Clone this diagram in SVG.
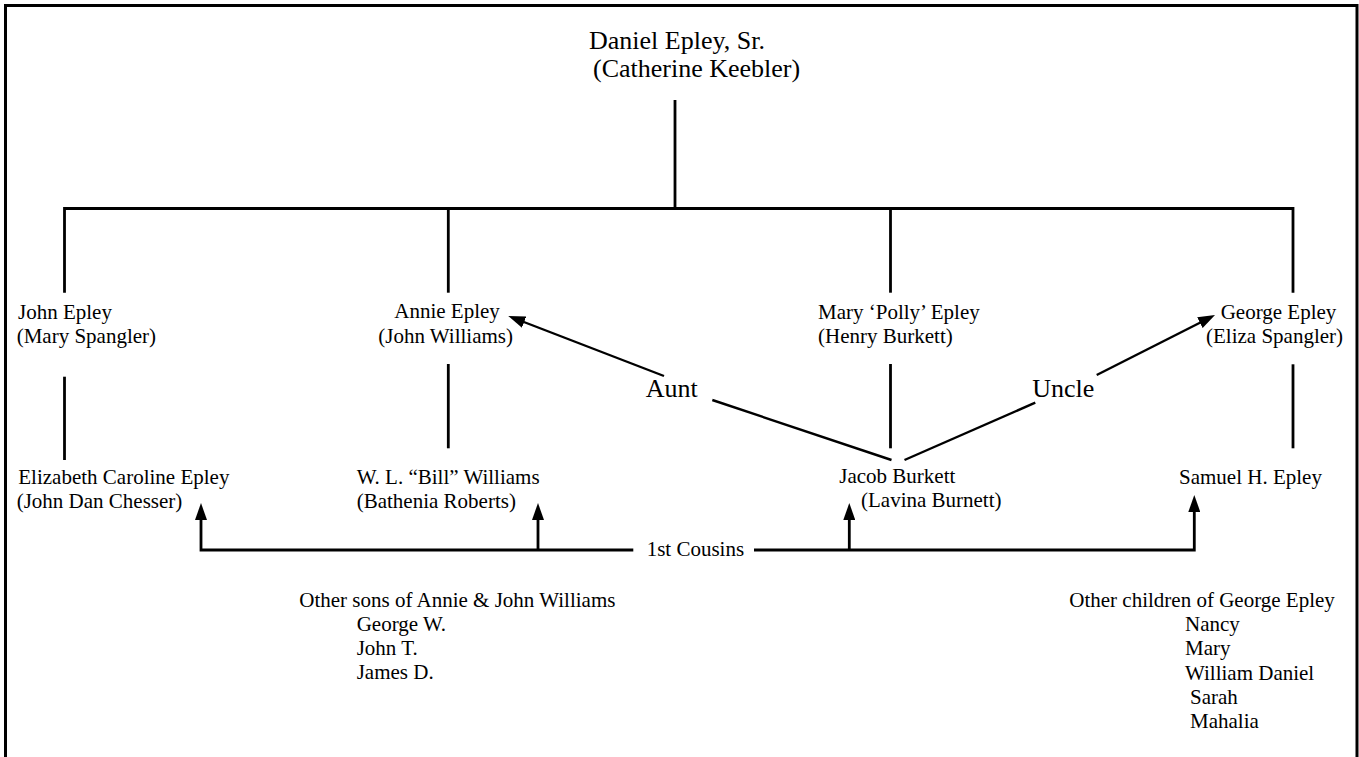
<svg xmlns="http://www.w3.org/2000/svg" width="1359" height="757" viewBox="0 0 1359 757">
<style>
text{font-family:"Liberation Serif","Times New Roman",serif;fill:#000}
.t{font-size:21px}
.b{font-size:26px}
.ln{fill:none;stroke:#000;stroke-width:2.8}
.dg{fill:none;stroke:#000;stroke-width:2.4}
</style>
<defs>
<marker id="ah" viewBox="0 0 17 12" refX="10" refY="6" markerWidth="17" markerHeight="12" markerUnits="userSpaceOnUse" orient="auto">
<path d="M0,0 L17,6 L0,12 z" fill="#000"/>
</marker>
</defs>
<rect width="1359" height="757" fill="#fff"/>
<path d="M5.5,757 V5.5 H1357 V757" fill="none" stroke="#000" stroke-width="3"/>

<g id="connectors">
<path class="ln" d="M675,100 V208.5"/>
<path class="ln" d="M64.5,292.7 V208.5 H1293 V292.7"/>
<path class="ln" d="M448.3,208.5 V292.7"/>
<path class="ln" d="M890.5,208.5 V292.7"/>
<path class="ln" d="M64.5,376.7 V460"/>
<path class="ln" d="M448.3,364 V448.3"/>
<path class="ln" d="M890.5,364 V448.3"/>
<path class="ln" d="M1293,364.3 V448.3"/>
<path class="dg" d="M891.5,460 L712.3,400"/>
<path class="dg" d="M664,376 L514.8,318.5" marker-end="url(#ah)"/>
<path class="dg" d="M904.5,460 L1035.3,402.7"/>
<path class="dg" d="M1096.7,375 L1208.8,318.2" marker-end="url(#ah)"/>
<path class="ln" d="M633.3,550 H201 V510" marker-end="url(#ah)"/>
<path class="ln" d="M538,550 V510" marker-end="url(#ah)"/>
<path class="ln" d="M754,550 H1194.3 V502" marker-end="url(#ah)"/>
<path class="ln" d="M849.3,550 V510" marker-end="url(#ah)"/>
<text class="b" x="645.7" y="396.7">Aunt</text>
<text class="b" x="1032.2" y="396.7">Uncle</text>
<text class="t" x="646.7" y="556">1st Cousins</text>
</g>

<g id="daniel">
<text class="b" x="589" y="49">Daniel Epley, Sr.</text>
<text class="b" x="593" y="77">(Catherine Keebler)</text>
</g>
<g id="john">
<text class="t" x="18" y="319">John Epley</text>
<text class="t" x="16.7" y="343">(Mary Spangler)</text>
</g>
<g id="annie">
<text class="t" x="394.3" y="318">Annie Epley</text>
<text class="t" x="378.3" y="342.7">(John Williams)</text>
</g>
<g id="mary">
<text class="t" x="818" y="319">Mary ‘Polly’ Epley</text>
<text class="t" x="818" y="343">(Henry Burkett)</text>
</g>
<g id="george">
<text class="t" x="1220.7" y="319">George Epley</text>
<text class="t" x="1206" y="343">(Eliza Spangler)</text>
</g>
<g id="elizabeth">
<text class="t" x="18.3" y="484">Elizabeth Caroline Epley</text>
<text class="t" x="16.7" y="508">(John Dan Chesser)</text>
</g>
<g id="bill">
<text class="t" x="356.7" y="484">W. L. “Bill” Williams</text>
<text class="t" x="356.7" y="508">(Bathenia Roberts)</text>
</g>
<g id="jacob">
<text class="t" x="839.3" y="483">Jacob Burkett</text>
<text class="t" x="861" y="507">(Lavina Burnett)</text>
</g>
<g id="samuel">
<text class="t" x="1179" y="484">Samuel H. Epley</text>
</g>
<g id="othersons">
<text class="t" x="299.3" y="607">Other sons of Annie &amp; John Williams</text>
<text class="t" x="356.7" y="631">George W.</text>
<text class="t" x="356.7" y="655">John T.</text>
<text class="t" x="356.7" y="679">James D.</text>
</g>
<g id="otherchildren">
<text class="t" x="1069.3" y="607">Other children of George Epley</text>
<text class="t" x="1185" y="631">Nancy</text>
<text class="t" x="1185" y="655">Mary</text>
<text class="t" x="1185" y="679.5">William Daniel</text>
<text class="t" x="1190" y="704">Sarah</text>
<text class="t" x="1190" y="728">Mahalia</text>
</g>
</svg>
